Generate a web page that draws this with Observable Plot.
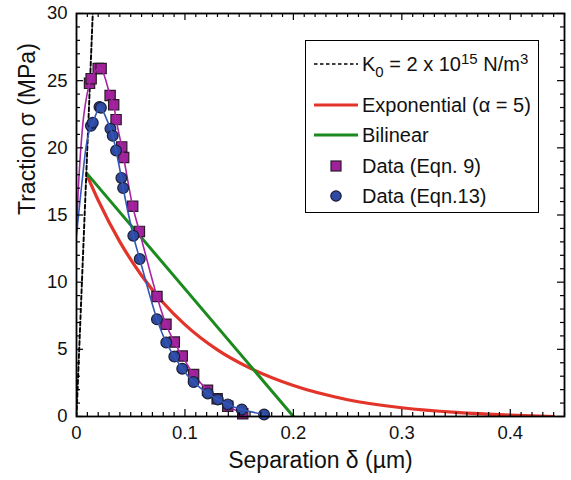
<!DOCTYPE html>
<html>
<head>
<meta charset="utf-8">
<script src="https://cdn.jsdelivr.net/npm/d3@7"></script>
<script src="https://cdn.jsdelivr.net/npm/@observablehq/plot@0.6"></script>
<style>
  html, body { margin: 0; padding: 0; background: #fff; }
  #wrap { position: relative; width: 571px; height: 480px; font-family: "Liberation Sans", Arial, Helvetica, sans-serif; }
  #legend { position: absolute; left: 305px; top: 40px; width: 234px; height: 173px; box-sizing: border-box;
            border: 1.5px solid #000; background: #fff; font-size: 20px; color: #111; }
  #legend .sw { position: absolute; left: 8px; width: 44px; height: 14px; }
  #legend .tx { position: absolute; left: 56px; white-space: nowrap; line-height: 20px; }
  #legend sub { font-size: 15px; vertical-align: -6px; line-height: 0; }
  #legend sup { font-size: 15px; vertical-align: 7px; line-height: 0; }
</style>
</head>
<body>
<div id="wrap">
  <div id="chart"></div>
  <div id="legend"></div>
</div>
<script>
// ---- Data ----
// Initial stiffness line K0 (delta in µm, sigma in MPa)
const k0Delta = [0, 0.015];
const k0Sigma = [0, 30];

// Exponential law (alpha = 5)
const expDelta = [0.0095, 0.02, 0.04, 0.06, 0.08, 0.10, 0.13, 0.16, 0.20, 0.25, 0.30, 0.35, 0.40, 0.44];
const expSigma = [18.0, 16.1, 13.0, 10.5, 8.47, 6.84, 4.96, 3.6, 2.3, 1.25, 0.65, 0.3, 0.1, 0.0];

// Bilinear law
const bilDelta = [0.0095, 0.2];
const bilSigma = [18.1, 0.0];

// Data (Eqn. 9) — squares
const eq9Delta = [0.012, 0.0135, 0.020, 0.0227, 0.031, 0.0343, 0.0365, 0.0417, 0.0435, 0.0518, 0.058,
                  0.0742, 0.0825, 0.0902, 0.0975, 0.108, 0.1208, 0.1297, 0.1395, 0.1533];
const eq9Sigma = [24.8, 25.15, 25.9, 25.9, 23.9, 23.2, 22.1, 20.07, 19.28, 15.65, 13.78,
                  8.93, 6.87, 5.54, 4.5, 3.13, 1.96, 1.32, 0.77, 0.2];
// Smooth fit through Eqn. 9 data (lead-in and end points of the fitted curve)
const eq9FitStartDelta = [0, 0.003, 0.007];
const eq9FitStartSigma = [13.8, 18.8, 22.6];
const eq9FitEndDelta = [0.158];
const eq9FitEndSigma = [0.0];

// Data (Eqn. 13) — circles
const eq13Delta = [0.0133, 0.015, 0.0212, 0.0225, 0.0313, 0.0334, 0.0365, 0.0414, 0.043, 0.0524, 0.0583,
                   0.0742, 0.0828, 0.0902, 0.0975, 0.108, 0.1211, 0.1303, 0.1395, 0.1524, 0.173];
const eq13Sigma = [21.64, 21.87, 23.04, 22.99, 21.42, 20.9, 19.8, 17.76, 17.01, 13.46, 11.72,
                   7.24, 5.5, 4.46, 3.56, 2.56, 1.72, 1.27, 0.9, 0.52, 0.15];
const eq13FitStartDelta = [0, 0.005, 0.0095];
const eq13FitStartSigma = [13.5, 17.4, 20.4];

// Axis ticks
const xTicks = [0, 0.1, 0.2, 0.3, 0.4];
const yTicks = [0, 5, 10, 15, 20, 25, 30];
const xMinor = d3.range(0, 0.4501, 0.01);
const yMinor = d3.range(0, 30.01, 1);

// Colours
const cRed = "#e3342a", cGreen = "#1b8a1f", cMag = "#a824a6", cMagFill = "#a0229a",
      cBlue = "#3556b8", cBlueFill = "#2f4aa3";

// ---- Build tables ----
const zip = (xs, ys) => xs.map((x, i) => ({x, y: ys[i]}));
const k0 = zip(k0Delta, k0Sigma);
const expo = zip(expDelta, expSigma);
const bil = zip(bilDelta, bilSigma);
const eq9 = zip(eq9Delta, eq9Sigma);
const eq13 = zip(eq13Delta, eq13Sigma);
const eq9Fit = [...zip(eq9FitStartDelta, eq9FitStartSigma), ...eq9, ...zip(eq9FitEndDelta, eq9FitEndSigma)];
const eq13Fit = [...zip(eq13FitStartDelta, eq13FitStartSigma), ...eq13];

const XMAX = 0.45, YMAX = 30;
const xPx = XMAX / 488, yPx = YMAX / 403;   // data units per pixel (for tick lengths)
const majX = 7 * yPx, minX = 4 * yPx, majY = 7 * xPx, minY = 4 * xPx;
const isMajorX = d => Math.abs(d * 10 - Math.round(d * 10)) < 1e-6;
const isMajorY = d => d % 5 === 0;

const chart = Plot.plot({
  width: 571,
  height: 480,
  marginLeft: 76,
  marginRight: 7,
  marginTop: 13,
  marginBottom: 64,
  x: {domain: [0, XMAX]},
  y: {domain: [0, YMAX]},
  style: {fontFamily: "'Liberation Sans', Arial, Helvetica, sans-serif", fontSize: "18.5px", background: "#fff", color: "#111"},
  marks: [
    // curves
    Plot.line(expo, {x: "x", y: "y", stroke: cRed, strokeWidth: 3.2, curve: "monotone-x", clip: true}),
    Plot.line(bil, {x: "x", y: "y", stroke: cGreen, strokeWidth: 3, clip: true}),
    Plot.line(k0, {x: "x", y: "y", stroke: "#000", strokeWidth: 1.9, strokeDasharray: "4,2.5", clip: true}),
    Plot.dot(eq9, {x: "x", y: "y", symbol: "square", r: 5.8, fill: cMagFill, stroke: "#2a1a2a", strokeWidth: 1.2}),
    Plot.line(eq9Fit, {x: "x", y: "y", stroke: cMag, strokeWidth: 1.6, curve: "catmull-rom", clip: true}),
    Plot.dot(eq13, {x: "x", y: "y", symbol: "circle", r: 5.4, fill: cBlueFill, stroke: "#1a1f33", strokeWidth: 1.2}),
    Plot.line(eq13Fit, {x: "x", y: "y", stroke: cBlue, strokeWidth: 1.6, curve: "catmull-rom", clip: true}),
    // inward ticks, all four sides
    Plot.ruleX(xMinor, {x: d => d, y1: 0, y2: d => isMajorX(d) ? majX : minX, stroke: "#000", strokeWidth: 1.2}),
    Plot.ruleX(xMinor, {x: d => d, y1: YMAX, y2: d => YMAX - (isMajorX(d) ? majX : minX), stroke: "#000", strokeWidth: 1.2}),
    Plot.ruleY(yMinor, {y: d => d, x1: 0, x2: d => isMajorY(d) ? majY : minY, stroke: "#000", strokeWidth: 1.2}),
    Plot.ruleY(yMinor, {y: d => d, x1: XMAX, x2: d => XMAX - (isMajorY(d) ? majY : minY), stroke: "#000", strokeWidth: 1.2}),
    Plot.frame({stroke: "#000", strokeWidth: 1.8}),
    // axes (labels only)
    Plot.axisX({ticks: xTicks, tickSize: 0, tickPadding: 9, tickFormat: d3.format("~g"), label: null, fill: "#111"}),
    Plot.axisY({ticks: yTicks, tickSize: 0, tickPadding: 9, tickFormat: d3.format("~g"), label: null, fill: "#111"}),
    // axis titles
    Plot.text(["Separation δ (µm)"], {frameAnchor: "bottom", dy: 51, text: d => d, fontSize: 23, fill: "#111"}),
    Plot.text(["Traction σ (MPa)"], {frameAnchor: "left", dx: -49, rotate: -90, text: d => d, fontSize: 23, fill: "#111"})
  ]
});
document.getElementById("chart").appendChild(chart);

// ---- Legend ----
const legendRows = [
  {kind: "dash", html: "K<sub>0</sub> = 2 x 10<sup>15</sup> N/m<sup>3</sup>", cy: 23},
  {kind: "line", color: cRed, width: 3.2, html: "Exponential (α = 5)", cy: 64},
  {kind: "line", color: cGreen, width: 3, html: "Bilinear", cy: 94},
  {kind: "square", color: cMagFill, html: "Data (Eqn. 9)", cy: 125},
  {kind: "circle", color: cBlueFill, html: "Data (Eqn.13)", cy: 155}
];
const leg = d3.select("#legend");
for (const r of legendRows) {
  const sw = leg.append("svg").attr("class", "sw").attr("viewBox", "0 0 44 14")
    .style("top", (r.cy - 7) + "px");
  if (r.kind === "dash") {
    sw.append("line").attr("x1", 0).attr("x2", 44).attr("y1", 7).attr("y2", 7)
      .attr("stroke", "#000").attr("stroke-width", 1.5).attr("stroke-dasharray", "3.5,2.5");
  } else if (r.kind === "line") {
    sw.append("line").attr("x1", 0).attr("x2", 44).attr("y1", 7).attr("y2", 7)
      .attr("stroke", r.color).attr("stroke-width", r.width);
  } else if (r.kind === "square") {
    sw.append("rect").attr("x", 17).attr("y", 2).attr("width", 10).attr("height", 10)
      .attr("fill", r.color).attr("stroke", "#2a1a2a").attr("stroke-width", 1.2);
  } else {
    sw.append("circle").attr("cx", 22).attr("cy", 7).attr("r", 5.2)
      .attr("fill", r.color).attr("stroke", "#1a1f33").attr("stroke-width", 1.2);
  }
  leg.append("div").attr("class", "tx").style("top", (r.cy - 10) + "px").html(r.html);
}
</script>
</body>
</html>
